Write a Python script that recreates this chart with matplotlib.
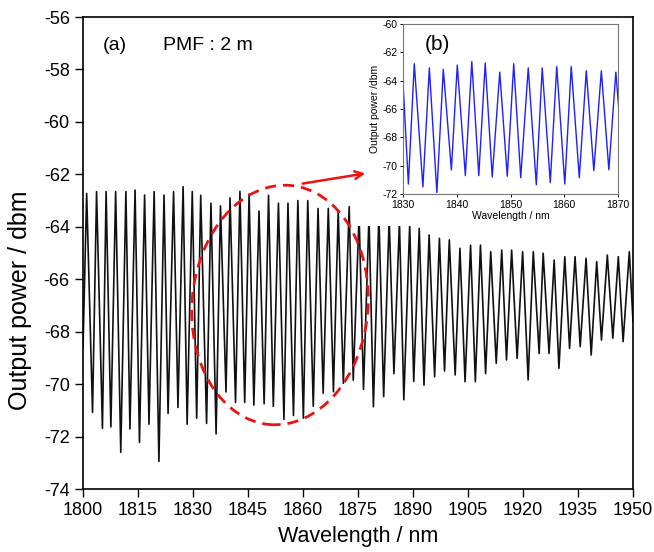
import matplotlib
matplotlib.use('Agg')
import matplotlib.pyplot as plt
from matplotlib.patches import Ellipse, Rectangle, FancyArrowPatch
import numpy as np

plt.rcParams['font.family'] = ['Liberation Sans', 'DejaVu Sans']
plt.rcParams['axes.unicode_minus'] = False

# ---- data (fringe maxima / minima) ----
start_wl, start_db = 1800.0, -68.6
end_wl, end_db = 1950.0, -67.6

peak_wl = [1801.0, 1803.7, 1806.3, 1808.9, 1811.7, 1814.2, 1816.8, 1819.4, 1822.1, 1824.7, 1827.3, 1829.8,
           1832.1, 1834.9, 1837.5, 1840.1, 1842.8, 1845.3, 1848.0, 1850.6, 1853.3, 1855.9, 1858.6, 1861.3,
           1864.1, 1866.9, 1869.6, 1872.6, 1875.3, 1878.0, 1880.7, 1883.5, 1886.3, 1889.1, 1891.7, 1894.4,
           1897.2, 1899.9, 1902.8, 1905.7, 1908.4, 1911.2, 1914.2, 1916.9, 1919.9, 1922.8, 1925.5, 1928.5,
           1931.4, 1934.2, 1937.2, 1940.1, 1943.0, 1946.0, 1949.0]
peak_db = [-62.73, -62.66, -62.66, -62.66, -62.66, -62.60, -62.79, -62.66, -62.79, -62.66, -62.47, -62.66,
           -62.80, -63.10, -63.20, -62.90, -62.65, -62.75, -63.40, -62.80, -63.10, -63.10, -63.00, -63.00,
           -63.30, -63.30, -63.40, -63.23, -63.55, -63.61, -63.55, -63.68, -63.80, -63.90, -64.06, -64.31,
           -64.44, -64.50, -64.82, -64.70, -64.70, -64.95, -64.89, -64.89, -64.95, -64.95, -65.01, -65.27,
           -65.14, -65.14, -65.20, -65.33, -65.08, -65.14, -64.95]

trough_wl = [1802.6, 1805.3, 1807.6, 1810.3, 1812.8, 1815.4, 1818.0, 1820.7, 1823.2, 1825.9, 1828.4,
             1831.0, 1833.7, 1836.3, 1839.0, 1841.6, 1844.1, 1846.6, 1849.4, 1851.9, 1854.8, 1857.4,
             1860.1, 1862.8, 1865.5, 1868.3, 1871.0, 1873.7, 1876.5, 1879.2, 1882.0, 1884.8, 1887.5,
             1890.2, 1893.0, 1895.9, 1898.6, 1901.5, 1904.2, 1907.0, 1909.8, 1912.7, 1915.5, 1918.4,
             1921.4, 1924.4, 1927.1, 1929.8, 1932.7, 1935.6, 1938.6, 1941.4, 1944.5, 1947.3]
trough_db = [-71.08, -71.69, -71.63, -72.60, -71.71, -72.22, -71.53, -72.95, -71.12, -70.89, -71.53,
             -71.30, -71.50, -71.90, -70.30, -70.70, -70.70, -70.80, -70.75, -70.85, -71.35, -71.20,
             -71.30, -70.85, -70.35, -70.29, -69.97, -69.85, -70.20, -70.86, -70.48, -69.60, -70.60,
             -69.90, -70.04, -69.72, -69.50, -69.65, -69.91, -69.91, -69.60, -69.21, -69.08, -69.02,
             -69.84, -68.83, -68.83, -69.40, -68.64, -68.57, -68.89, -68.32, -68.25, -68.38]

main_xticks = [1800, 1815, 1830, 1845, 1860, 1875, 1890, 1905, 1920, 1935, 1950]
main_yticks = [-74, -72, -70, -68, -66, -64, -62, -60, -58, -56]
inset_xticks = [1830, 1840, 1850, 1860, 1870]
inset_yticks = [-72, -70, -68, -66, -64, -62, -60]

wl = np.concatenate([[start_wl], peak_wl, trough_wl, [end_wl]])
db = np.concatenate([[start_db], peak_db, trough_db, [end_db]])
order = np.argsort(wl)
wl, db = wl[order], db[order]

W, H = 654, 552
fig = plt.figure(figsize=(W / 100, H / 100), dpi=100)

ax = fig.add_axes([83 / W, 1 - 489 / H, 550 / W, 472 / H])
ax.plot(wl, db, color='#111111', lw=1.2)
ax.set_xlim(1800, 1950)
ax.set_ylim(-74, -56)
ax.set_xticks(main_xticks)
ax.set_yticks(main_yticks)
ax.tick_params(axis='both', direction='out', length=6, width=1, labelsize=13, top=False, right=False)
for s in ax.spines.values():
    s.set_linewidth(1.2)
ax.set_xlabel('Wavelength / nm', fontsize=15.5, labelpad=5)
ax.set_ylabel('Output power / dbm', fontsize=18)
ax.yaxis.set_label_coords(-0.093, 0.40)
ax.text(0.035, 0.94, '(a)', transform=ax.transAxes, fontsize=14, va='center')
ax.text(0.145, 0.94, 'PMF : 2 m', transform=ax.transAxes, fontsize=14, va='center')

# white patch behind inset
cover = Rectangle((355 / W, 1 - 226 / H), 278 / W, 208 / H, transform=fig.transFigure,
                  facecolor='white', edgecolor='none', zorder=2.2, clip_on=False)
ax.add_patch(cover)

# red dashed ellipse and arrow (annotations, pixel-positioned)
ell = Ellipse((2.80, (H - 305) / 100), 1.76, 2.40, angle=-5, transform=fig.dpi_scale_trans,
              fill=False, edgecolor='#ee1111', lw=2.0, linestyle=(0, (4, 2.5)), zorder=5)
fig.add_artist(ell)
arr = FancyArrowPatch((3.00, (H - 184) / 100), (3.68, (H - 173) / 100), transform=fig.dpi_scale_trans,
                      arrowstyle='->', mutation_scale=14, color='#ee1111', lw=1.8, zorder=6)
fig.add_artist(arr)

# inset
axi = fig.add_axes([403 / W, 1 - 194 / H, 215 / W, 170 / H])
axi.plot(wl, db, color='#1f1fff', lw=1.0)
axi.set_xlim(1830, 1870)
axi.set_ylim(-72, -60)
axi.set_xticks(inset_xticks)
axi.set_yticks(inset_yticks)
axi.tick_params(axis='both', direction='out', length=2.5, width=0.7, labelsize=7.5, pad=1.5)
for s in axi.spines.values():
    s.set_linewidth(0.8)
    s.set_color('#777777')
axi.set_xlabel('Wavelength / nm', fontsize=7.5, labelpad=1)
axi.set_ylabel('Output power /dbm', fontsize=7.5, labelpad=2)
axi.text(0.1, 0.88, '(b)', transform=axi.transAxes, fontsize=15, va='center')

fig.savefig('out.png', dpi=100)
